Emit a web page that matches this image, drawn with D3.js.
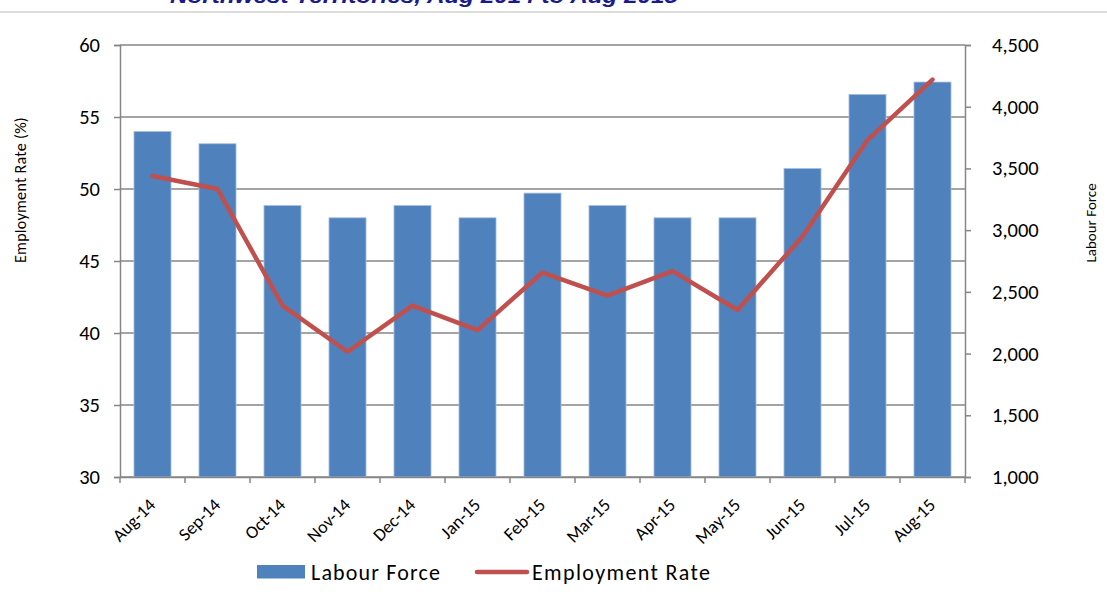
<!DOCTYPE html>
<html><head><meta charset="utf-8">
<script src="https://cdn.jsdelivr.net/npm/d3@7"></script>
<style>
html,body{margin:0;padding:0;background:#fff;}
svg{display:block;}
text{font-family:Carlito,"Liberation Sans Narrow","Open Sans",sans-serif;fill:#000;}
</style></head>
<body>
<svg id="chart" width="1107" height="610"></svg>
<script>
const categories = ["Aug-14","Sep-14","Oct-14","Nov-14","Dec-14","Jan-15","Feb-15","Mar-15","Apr-15","May-15","Jun-15","Jul-15","Aug-15"];
const labourForce = [3800,3700,3200,3100,3200,3100,3300,3200,3100,3100,3500,4100,4200];
const employmentRate = [50.9,50.0,41.9,38.7,41.9,40.2,44.2,42.6,44.3,41.6,46.7,53.4,57.6];
const leftTicks = [30,35,40,45,50,55,60];
const rightTicks = [1000,1500,2000,2500,3000,3500,4000,4500];
const titleText = "Northwest Territories, Aug 2014 to Aug 2015";

const svg = d3.select("#chart");
const L = 120, R = 965, T = 45, B = 477;
const axisColor = "#868686";

// title (cut off at top, as in the reference) and divider
svg.append("text").attr("x",170).attr("y",3)
  .attr("textLength",508).attr("lengthAdjust","spacingAndGlyphs")
  .style("font-family","'Liberation Sans',Arial,sans-serif")
  .style("font-weight","bold").style("font-style","italic").style("font-size","20px")
  .style("fill","#1a1a8c").text(titleText);
svg.append("line").attr("x1",0).attr("x2",1107).attr("y1",12).attr("y2",12)
  .attr("stroke","#dcdcdc").attr("stroke-width",2);

const x = d3.scaleBand().domain(categories).range([L,R]).paddingInner(0.43).paddingOuter(0.215);
const xc = d3.scaleBand().domain(categories).range([L,R]);
const yL = d3.scaleLinear().domain([30,60]).range([B,T]);
const yR = d3.scaleLinear().domain([1000,4500]).range([B,T]);

// gridlines
svg.append("g").selectAll("line").data(leftTicks).join("line")
  .attr("x1",L).attr("x2",R).attr("y1",d=>yL(d)).attr("y2",d=>yL(d))
  .attr("stroke",axisColor).attr("stroke-width",1.5);

// bars
svg.append("g").selectAll("rect").data(labourForce).join("rect")
  .attr("x",(d,i)=>x(categories[i])).attr("width",x.bandwidth())
  .attr("y",d=>yR(d)).attr("height",d=>B-yR(d))
  .attr("fill","#4f81bd").attr("stroke","#a9c1e0").attr("stroke-width",0.8);

// left axis
const gL = svg.append("g").attr("transform",`translate(${L},0)`)
  .call(d3.axisLeft(yL).tickValues(leftTicks).tickSize(6).tickPadding(14));
// right axis
const gR = svg.append("g").attr("transform",`translate(${R},0)`)
  .call(d3.axisRight(yR).tickValues(rightTicks).tickFormat(d3.format(",")).tickSize(6).tickPadding(21));
// bottom axis
const gB = svg.append("g").attr("transform",`translate(0,${B})`)
  .call(d3.axisBottom(xc).tickSize(0).tickFormat(""));
[gL,gR,gB].forEach(g=>{
  g.select(".domain").attr("stroke",axisColor).attr("stroke-width",1.5);
  g.selectAll(".tick line").attr("stroke",axisColor).attr("stroke-width",1.5);
});
gL.selectAll("text").style("font-size","20.5px").attr("fill","#000");
gR.selectAll("text").style("font-size","20.5px").attr("fill","#000");
// category boundary ticks
const bounds = categories.map(c=>xc(c)).concat([R]);
svg.append("g").selectAll("line").data(bounds).join("line")
  .attr("x1",d=>d).attr("x2",d=>d).attr("y1",B).attr("y2",B+6)
  .attr("stroke",axisColor).attr("stroke-width",1.5);
// x labels
svg.append("g").selectAll("text").data(categories).join("text")
  .attr("transform",d=>`translate(${xc(d)+xc.bandwidth()/2+4},${B+29}) rotate(-45)`)
  .attr("text-anchor","end").style("font-size","18px")
  .text(d=>d);

// line
svg.append("path").datum(employmentRate)
  .attr("d",d3.line().x((d,i)=>xc(categories[i])+xc.bandwidth()/2).y(d=>yL(d)))
  .attr("fill","none").attr("stroke","#c0504d").attr("stroke-width",4.5)
  .attr("stroke-linecap","round").attr("stroke-linejoin","round");

// axis titles
svg.append("text").attr("transform","translate(26,190) rotate(-90)")
  .attr("text-anchor","middle").style("font-size","16px").style("letter-spacing","0.3px")
  .text("Employment Rate (%)");
svg.append("text").attr("transform","translate(1096,223) rotate(-90)")
  .attr("text-anchor","middle").style("font-size","15px")
  .text("Labour Force");

// legend
const lg = svg.append("g");
lg.append("rect").attr("x",257).attr("y",565).attr("width",48).attr("height",13.5).attr("fill","#4f81bd");
lg.append("text").attr("x",311).attr("y",580).style("font-size","22px")
  .attr("textLength",129).attr("lengthAdjust","spacing").text("Labour Force");
lg.append("line").attr("x1",477).attr("x2",527).attr("y1",572).attr("y2",572)
  .attr("stroke","#c0504d").attr("stroke-width",4.5).attr("stroke-linecap","round");
lg.append("text").attr("x",532).attr("y",580).style("font-size","22px")
  .attr("textLength",178).attr("lengthAdjust","spacing").text("Employment Rate");
</script>
</body></html>
